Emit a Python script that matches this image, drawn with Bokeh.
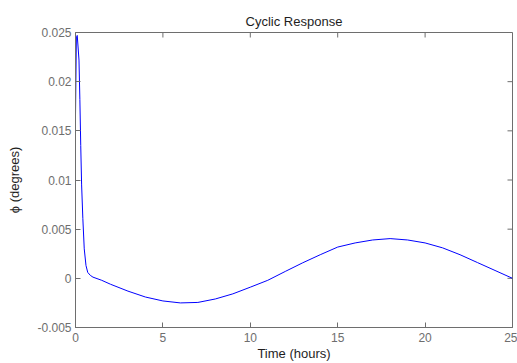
import math
from bokeh.plotting import figure
from bokeh.models import LinearAxis, FixedTicker, NumeralTickFormatter, Range1d
from bokeh.embed import file_html
from bokeh.resources import INLINE

# Data
time_h = [0, 0.05, 0.1, 0.2, 0.25, 0.3, 0.35, 0.42, 0.5, 0.6, 0.7, 0.85, 1.0, 1.5,
          2, 3, 4, 5, 6, 7, 8, 9, 10, 11, 12, 13, 14, 15, 16, 17, 18, 19, 20,
          21, 22, 23, 24, 25]
phi_deg = [0.0166, 0.0246, 0.0247, 0.0222, 0.0182, 0.0135, 0.0095, 0.0061, 0.0030,
           0.0013, 0.0006, 0.0003, 0.00012, -0.0002,
           -0.0006, -0.0013, -0.0019, -0.0023, -0.0025, -0.00245, -0.0021, -0.00158,
           -0.0009, -0.0002, 0.0007, 0.00158, 0.0024, 0.00318, 0.0036, 0.0039,
           0.00404, 0.0039, 0.0036, 0.0031, 0.0024, 0.0016, 0.0008, 0.0]

x_ticks = [0, 5, 10, 15, 20, 25]
y_ticks = [-0.005, 0, 0.005, 0.01, 0.015, 0.02, 0.025]
x_lim = (0, 25)
y_lim = (-0.005, 0.025)

FONT = "Liberation Sans"
GRAY = "#6e6e6e"
DARK = "#1e1e1e"

p = figure(width=517, height=363, output_backend="svg", toolbar_location=None,
           x_range=Range1d(*x_lim), y_range=Range1d(*y_lim),
           x_axis_location=None, y_axis_location=None,
           min_border_left=75, min_border_right=5, min_border_top=32, min_border_bottom=36)

p.title.text = "Cyclic Response"
p.title.align = "center"
p.title.text_font = FONT
p.title.text_font_size = "13px"
p.title.text_font_style = "normal"
p.title.text_color = DARK
p.title.offset = 0
p.title.standoff = 8

p.grid.visible = False
p.outline_line_color = GRAY
p.outline_line_width = 1
p.background_fill_color = "white"
p.border_fill_color = "white"


def style_axis(ax, ticks):
    ax.ticker = FixedTicker(ticks=ticks)
    ax.major_tick_in = 5
    ax.major_tick_out = 0
    ax.minor_tick_line_color = None
    ax.axis_line_color = GRAY
    ax.major_tick_line_color = GRAY
    ax.major_label_text_font = FONT
    ax.major_label_text_font_size = "12px"
    ax.major_label_text_color = GRAY
    ax.axis_label_text_font = FONT
    ax.axis_label_text_font_size = "13px"
    ax.axis_label_text_font_style = "normal"
    ax.axis_label_text_color = DARK


xb = LinearAxis(axis_label="Time (hours)")
style_axis(xb, x_ticks)
xb.major_label_standoff = 5
xb.axis_label_standoff = 1
p.add_layout(xb, "below")

yl = LinearAxis(axis_label="ϕ (degrees)", formatter=NumeralTickFormatter(format="0.[000]"))
style_axis(yl, y_ticks)
yl.major_label_standoff = 4
yl.axis_label_standoff = 12
p.add_layout(yl, "left")

# mirrored inward ticks on the top and right edges of the box
p.ray(x=x_ticks, y=[y_lim[1]] * len(x_ticks), length=5, length_units="screen",
      angle=-math.pi / 2, line_color=GRAY, line_width=1)
p.ray(x=[x_lim[1]] * len(y_ticks), y=y_ticks, length=5, length_units="screen",
      angle=math.pi, line_color=GRAY, line_width=1)

p.line(time_h, phi_deg, line_color="#0000ff", line_width=1)

open("out.html", "w").write(file_html(p, INLINE))
